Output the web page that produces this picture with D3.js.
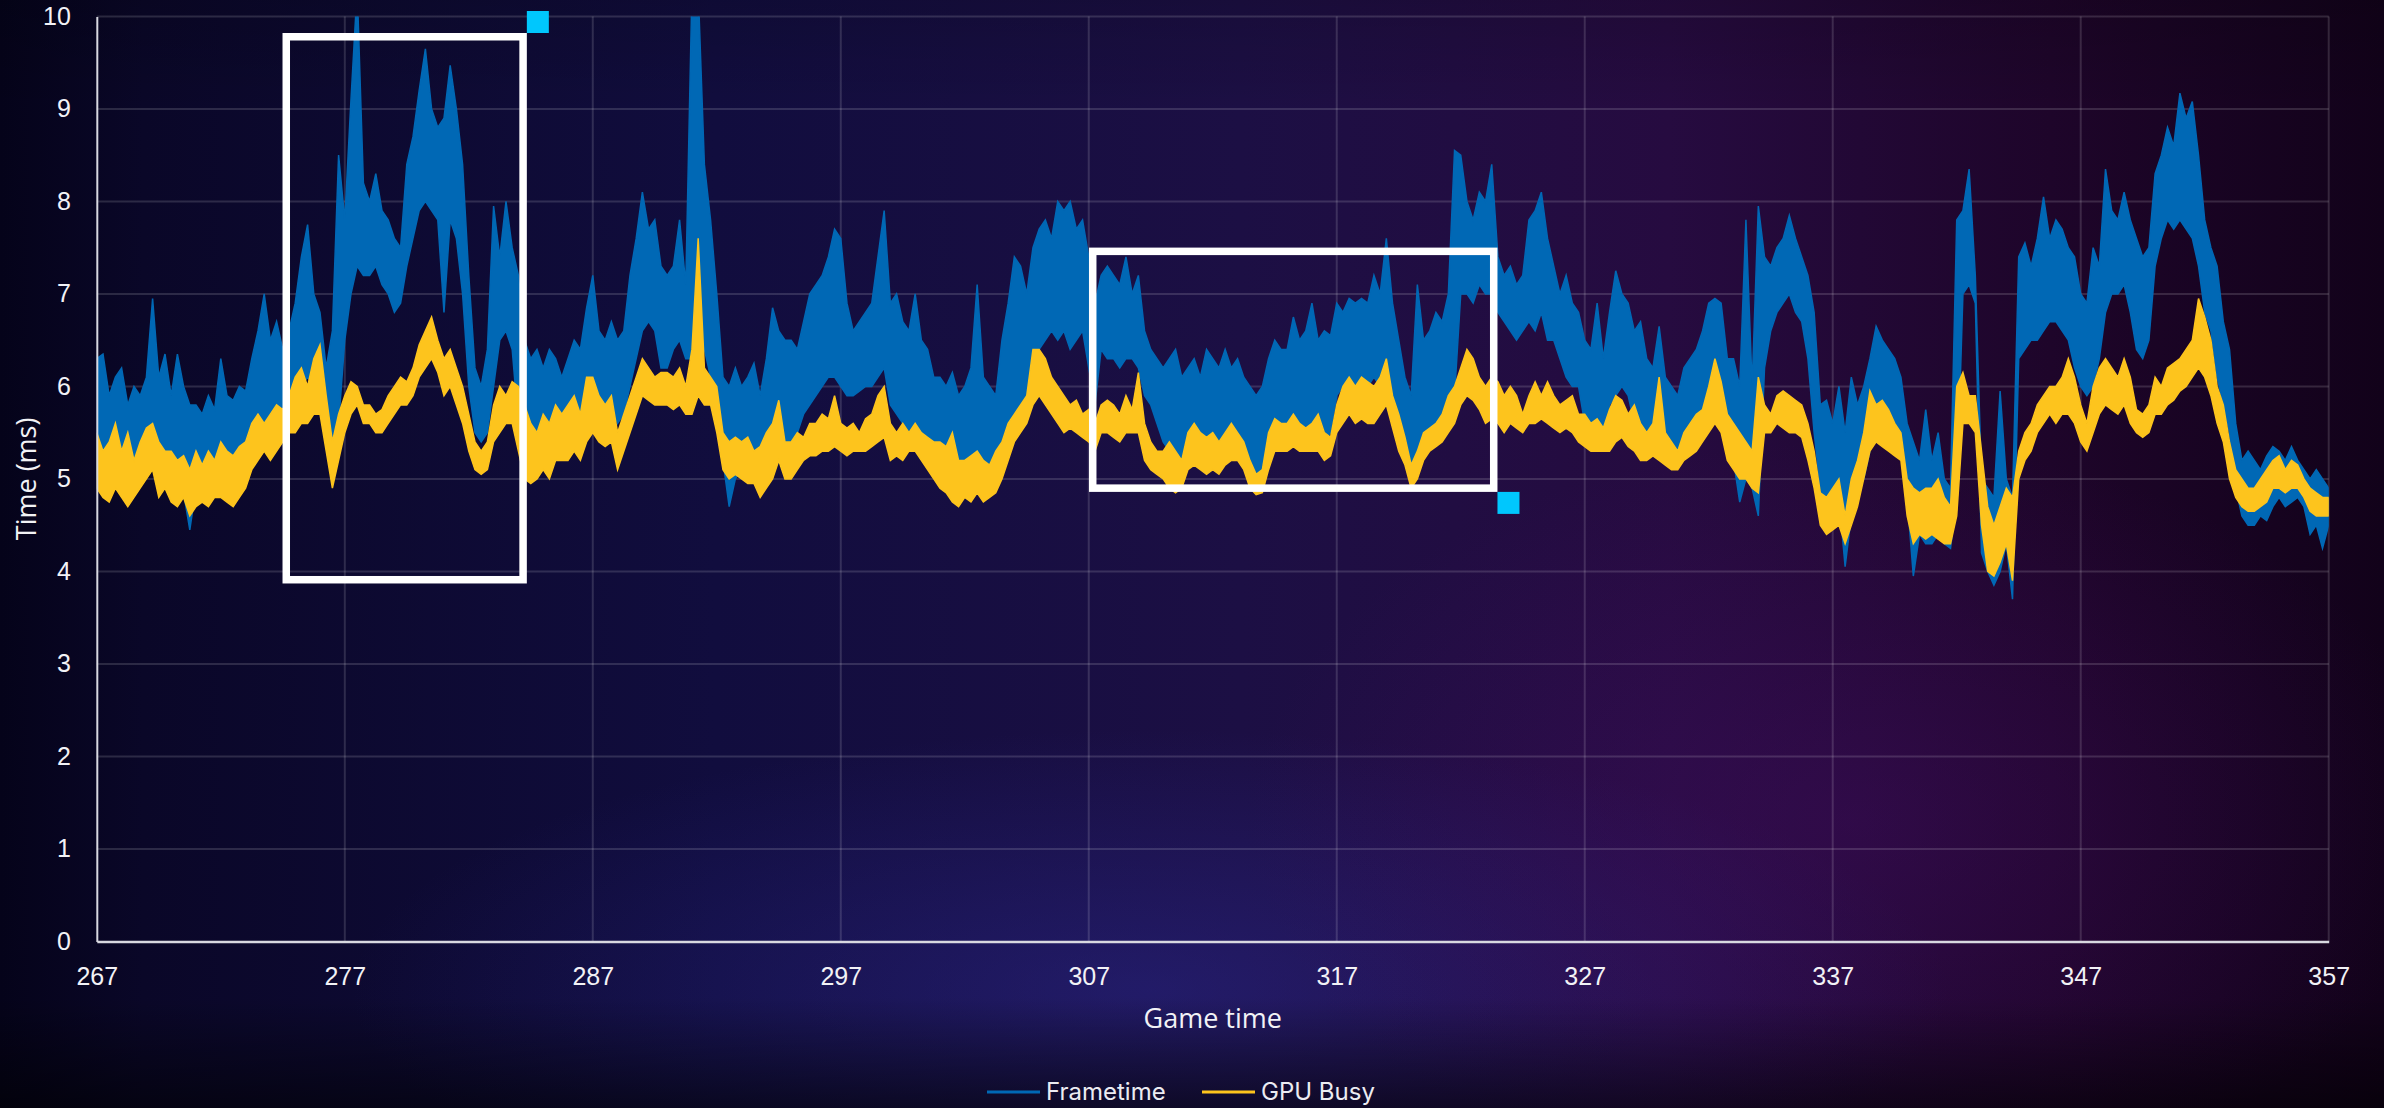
<!DOCTYPE html>
<html>
<head>
<meta charset="utf-8">
<script src="https://cdn.jsdelivr.net/npm/d3@7"></script>
<style>
  html, body { margin: 0; padding: 0; background: #0b0826; overflow: hidden; }
  svg { display: block; }
  .tick text { fill: #f2f2f6; font-family: "Liberation Sans", Arial, sans-serif; font-size: 25px; }
</style>
</head>
<body>
<script>
// Sample grid: one value every quarter second, from 267 s to 357 s
const tStart = 267;
const tStep = 0.25;

const xTicks = [267, 277, 287, 297, 307, 317, 327, 337, 347, 357];
const yTicks = [0, 1, 2, 3, 4, 5, 6, 7, 8, 9, 10];

// Frametime (ms): upper and lower envelope of the trace, per quarter second
const frameHi = [
  6.3, 6.35, 5.9, 6.1,  6.2, 5.8, 6.0, 5.9,  6.1, 6.95, 6.1, 6.35,  5.9, 6.35, 6.0, 5.8,  5.8, 5.7, 5.9, 5.75,
  6.3, 5.9, 5.85, 6.0,  5.95, 6.3, 6.6, 7.0,  6.5, 6.7, 6.4, 6.6,  6.9, 7.4, 7.75, 7.0,  6.8, 6.2, 6.6, 8.5,
  7.8, 9.1, 10.3, 8.2,  8.0, 8.3, 7.9, 7.8,  7.6, 7.5, 8.4, 8.7,  9.2, 9.65, 9.0, 8.8,  8.9, 9.47, 9.0, 8.4,
  7.2, 6.2, 6.0, 6.4,  7.95, 7.4, 8.0, 7.5,  7.2, 6.5, 6.3, 6.4,  6.2, 6.4, 6.3, 6.1,  6.3, 6.5, 6.4, 6.85,
  7.2, 6.6, 6.5, 6.7,  6.5, 6.6, 7.2, 7.6,  8.1, 7.7, 7.8, 7.3,  7.2, 7.3, 7.8, 7.1,  10.3, 10.3, 8.4, 7.8,
  7.0, 6.1, 6.0, 6.2,  6.0, 6.1, 6.25, 5.9,  6.3, 6.85, 6.6, 6.5,  6.5, 6.4, 6.7, 7.0,  7.1, 7.2, 7.4, 7.7,
  7.6, 6.9, 6.6, 6.7,  6.8, 6.9, 7.4, 7.9,  6.9, 7.0, 6.7, 6.6,  7.0, 6.5, 6.4, 6.1,  6.1, 6.0, 6.15, 5.9,
  6.0, 6.2, 7.1, 6.1,  6.0, 5.9, 6.5, 6.9,  7.4, 7.3, 7.0, 7.5,  7.7, 7.8, 7.6, 8.0,  7.9, 8.0, 7.7, 7.8,
  7.4, 6.9, 7.2, 7.3,  7.2, 7.1, 7.4, 7.0,  7.2, 6.6, 6.4, 6.3,  6.2, 6.3, 6.4, 6.1,  6.2, 6.3, 6.1, 6.4,
  6.3, 6.2, 6.4, 6.2,  6.3, 6.1, 6.0, 5.9,  6.0, 6.3, 6.5, 6.4,  6.4, 6.75, 6.5, 6.6,  6.9, 6.5, 6.6, 6.55,
  6.9, 6.8, 6.95, 6.9,  6.95, 6.9, 7.2, 7.0,  7.6, 6.9, 6.5, 6.1,  5.9, 7.1, 6.5, 6.6,  6.8, 6.7, 7.0, 8.55,
  8.5, 8.0, 7.8, 8.1,  8.0, 8.4, 7.4, 7.2,  7.3, 7.1, 7.2, 7.8,  7.9, 8.1, 7.6, 7.3,  7.0, 7.2, 6.9, 6.8,
  6.5, 6.4, 6.9, 6.3,  6.8, 7.25, 7.0, 6.9,  6.6, 6.7, 6.3, 6.2,  6.65, 6.1, 6.0, 5.9,  6.2, 6.3, 6.4, 6.6,
  6.9, 6.95, 6.9, 6.3,  6.3, 6.0, 7.8, 6.0,  7.95, 7.4, 7.3, 7.5,  7.6, 7.85, 7.6, 7.4,  7.2, 6.8, 5.8, 5.85,
  5.6, 6.0, 5.5, 6.1,  5.8, 6.0, 6.3, 6.65,  6.5, 6.4, 6.3, 6.1,  5.6, 5.4, 5.2, 5.75,  5.2, 5.5, 5.0, 4.9,
  7.8, 7.9, 8.35, 7.2,  5.0, 4.9, 4.8, 5.95,  5.0, 4.8, 7.4, 7.55,  7.3, 7.6, 8.05, 7.6,  7.8, 7.7, 7.5, 7.4,
  7.0, 6.9, 7.5, 7.3,  8.35, 7.9, 7.8, 8.1,  7.8, 7.6, 7.4, 7.5,  8.3, 8.5, 8.8, 8.6,  9.17, 8.9, 9.08, 8.5,
  7.8, 7.5, 7.3, 6.7,  6.4, 5.6, 5.2, 5.3,  5.2, 5.1, 5.25, 5.35,  5.3, 5.2, 5.35, 5.2,  5.1, 5.0, 5.1, 5.0,
  4.9
];
const frameLo = [
  5.0, 4.95, 5.1, 5.0,  5.1, 5.0, 4.9, 5.0,  5.1, 5.2, 5.0, 5.1,  5.0, 4.9, 4.85, 4.45,  4.9, 4.85, 5.0, 4.9,
  5.0, 4.9, 4.8, 4.9,  5.0, 5.2, 5.4, 5.5,  5.6, 5.6, 5.5, 5.7,  5.9, 6.0, 6.1, 6.0,  5.8, 5.5, 5.3, 5.6,
  6.5, 7.0, 7.3, 7.2,  7.2, 7.3, 7.1, 7.0,  6.8, 6.9, 7.3, 7.6,  7.9, 8.0, 7.9, 7.8,  6.8, 7.8, 7.6, 7.0,
  6.0, 5.5, 5.4, 5.5,  6.0, 6.5, 6.6, 6.4,  5.6, 5.4, 5.3, 5.2,  5.4, 5.5, 5.5, 5.4,  5.5, 5.6, 5.5, 5.6,
  5.9, 5.8, 5.7, 5.8,  5.6, 5.7, 6.0, 6.3,  6.6, 6.7, 6.6, 6.2,  6.2, 6.4, 6.5, 6.3,  6.3, 6.5, 6.4, 6.1,
  5.8, 5.2, 4.7, 5.0,  5.1, 5.0, 5.05, 5.0,  5.0, 5.1, 5.3, 5.2,  5.3, 5.5, 5.7, 5.8,  5.9, 6.0, 6.1, 6.1,
  6.0, 5.9, 5.9, 5.95,  6.0, 6.0, 6.1, 6.2,  5.8, 5.7, 5.6, 5.5,  5.5, 5.4, 5.3, 5.2,  5.1, 5.0, 4.9, 4.85,
  4.9, 4.95, 5.0, 4.9,  4.9, 4.95, 5.2, 5.5,  5.7, 5.8, 5.9, 6.0,  6.4, 6.5, 6.6, 6.5,  6.6, 6.4, 6.5, 6.6,
  6.2, 5.8, 6.4, 6.3,  6.3, 6.2, 6.3, 6.3,  6.2, 5.9, 5.8, 5.6,  5.4, 5.3, 5.2, 5.2,  5.2, 5.25, 5.2, 5.3,
  5.3, 5.3, 5.4, 5.35,  5.4, 5.3, 5.1, 5.0,  5.1, 5.3, 5.4, 5.4,  5.4, 5.5, 5.5, 5.45,  5.5, 5.5, 5.4, 5.5,
  5.9, 6.0, 6.0, 5.9,  5.95, 6.0, 6.1, 6.0,  6.0, 5.8, 5.6, 5.4,  5.0, 5.1, 5.3, 5.4,  5.6, 5.6, 5.7, 5.9,
  7.0, 7.0, 6.9, 7.1,  7.0, 7.0, 6.8, 6.7,  6.6, 6.5, 6.6, 6.7,  6.6, 6.8, 6.5, 6.5,  6.3, 6.1, 6.0, 6.0,
  5.6, 5.5, 5.5, 5.4,  5.8, 5.9, 6.0, 5.9,  5.6, 5.5, 5.4, 5.4,  5.4, 5.3, 5.2, 5.15,  5.3, 5.4, 5.4, 5.5,
  5.9, 6.0, 5.9, 5.5,  5.2, 4.75, 5.0, 4.9,  4.6, 6.2, 6.6, 6.8,  6.9, 7.0, 6.8, 6.7,  6.3, 5.5, 4.9, 4.7,
  4.7, 4.8, 4.05, 4.6,  4.9, 5.0, 5.3, 5.6,  5.6, 5.5, 5.4, 5.3,  4.8, 3.95, 4.4, 4.3,  4.3, 4.4, 4.3, 4.25,
  4.8, 7.0, 7.1, 6.9,  4.2, 4.0, 3.85, 4.0,  4.3, 3.7, 6.3, 6.4,  6.5, 6.5, 6.6, 6.7,  6.7, 6.6, 6.5, 6.2,
  6.0, 5.9, 6.0, 6.3,  6.8, 7.0, 7.0, 7.1,  6.8, 6.4, 6.3, 6.5,  7.3, 7.6, 7.8, 7.7,  7.8, 7.7, 7.6, 7.3,
  6.8, 6.6, 6.1, 5.8,  5.5, 4.9, 4.6, 4.5,  4.5, 4.6, 4.55, 4.7,  4.8, 4.7, 4.75, 4.8,  4.7, 4.4, 4.5, 4.25,
  4.5
];

// GPU Busy (ms): upper and lower envelope, per quarter second
const gpuHi = [
  5.5, 5.3, 5.4, 5.6,  5.3, 5.5, 5.2, 5.4,  5.55, 5.6, 5.4, 5.3,  5.3, 5.2, 5.25, 5.1,  5.3, 5.15, 5.3, 5.2,
  5.4, 5.3, 5.25, 5.35,  5.4, 5.6, 5.7, 5.6,  5.7, 5.8, 5.75, 5.9,  6.1, 6.2, 6.0, 6.3,  6.45, 5.9, 5.4, 5.7,
  5.9, 6.05, 6.0, 5.8,  5.8, 5.7, 5.75, 5.9,  6.0, 6.1, 6.05, 6.2,  6.45, 6.6, 6.75, 6.5,  6.3, 6.4, 6.2, 6.0,
  5.7, 5.4, 5.3, 5.4,  5.8, 6.0, 5.9, 6.05,  6.0, 5.8, 5.6, 5.5,  5.7, 5.6, 5.8, 5.7,  5.8, 5.9, 5.7, 6.1,
  6.1, 5.9, 5.8, 5.9,  5.5, 5.7, 5.9, 6.1,  6.3, 6.2, 6.1, 6.15,  6.15, 6.1, 6.2, 6.0,  6.4, 7.6, 6.2, 6.1,
  6.0, 5.5, 5.4, 5.45,  5.4, 5.45, 5.3, 5.35,  5.5, 5.6, 5.85, 5.4,  5.4, 5.5, 5.45, 5.6,  5.6, 5.7, 5.65, 5.9,
  5.6, 5.55, 5.6, 5.5,  5.65, 5.7, 5.9, 6.0,  5.6, 5.5, 5.6, 5.5,  5.6, 5.5, 5.45, 5.4,  5.4, 5.35, 5.5, 5.2,
  5.2, 5.25, 5.3, 5.2,  5.15, 5.3, 5.4, 5.6,  5.7, 5.8, 5.9, 6.4,  6.4, 6.3, 6.1, 6.0,  5.9, 5.8, 5.85, 5.7,
  5.75, 5.6, 5.8, 5.85,  5.8, 5.7, 5.9, 5.75,  6.15, 5.6, 5.4, 5.3,  5.3, 5.4, 5.3, 5.2,  5.5, 5.6, 5.5, 5.45,
  5.5, 5.4, 5.5, 5.6,  5.5, 5.4, 5.2, 5.05,  5.1, 5.5, 5.65, 5.6,  5.6, 5.7, 5.6, 5.55,  5.6, 5.7, 5.5, 5.45,
  5.8, 6.0, 6.1, 6.0,  6.1, 6.05, 6.0, 6.1,  6.3, 5.9, 5.7, 5.45,  5.15, 5.3, 5.5, 5.55,  5.6, 5.7, 5.9, 6.0,
  6.2, 6.4, 6.3, 6.1,  6.0, 6.1, 6.05, 5.9,  6.0, 5.9, 5.7, 5.9,  6.05, 5.9, 6.05, 5.9,  5.8, 5.85, 5.9, 5.7,
  5.7, 5.6, 5.65, 5.55,  5.75, 5.9, 5.85, 5.7,  5.8, 5.6, 5.5, 5.6,  6.1, 5.5, 5.4, 5.3,  5.5, 5.6, 5.7, 5.75,
  6.0, 6.3, 6.05, 5.7,  5.6, 5.5, 5.4, 5.3,  6.1, 5.8, 5.7, 5.9,  5.95, 5.9, 5.85, 5.8,  5.6, 5.3, 4.85, 4.8,
  4.9, 5.0, 4.6, 5.0,  5.2, 5.5, 5.95, 5.8,  5.85, 5.75, 5.6, 5.5,  5.0, 4.9, 4.85, 4.9,  4.9, 5.0, 4.8, 4.7,
  6.0, 6.15, 5.9, 5.9,  5.3, 4.7, 4.5, 4.7,  4.9, 4.8, 5.3, 5.5,  5.6, 5.8, 5.9, 6.0,  6.0, 6.1, 6.3, 6.1,
  5.8, 5.6, 6.0, 6.2,  6.3, 6.2, 6.1, 6.3,  6.1, 5.75, 5.7, 5.8,  6.1, 6.0, 6.2, 6.25,  6.3, 6.4, 6.5, 6.95,
  6.75, 6.5, 6.0, 5.8,  5.4, 5.1, 5.0, 4.9,  4.9, 5.0, 5.1, 5.2,  5.25, 5.1, 5.2, 5.15,  5.0, 4.9, 4.85, 4.8,
  4.8
];
const gpuLo = [
  4.9, 4.8, 4.75, 4.9,  4.8, 4.7, 4.8, 4.9,  5.0, 5.1, 4.8, 4.9,  4.75, 4.7, 4.8, 4.6,  4.7, 4.75, 4.7, 4.8,
  4.8, 4.75, 4.7, 4.8,  4.9, 5.1, 5.2, 5.3,  5.2, 5.3, 5.4, 5.5,  5.5, 5.6, 5.6, 5.7,  5.7, 5.3, 4.9, 5.2,
  5.5, 5.7, 5.8, 5.6,  5.6, 5.5, 5.5, 5.6,  5.7, 5.8, 5.8, 5.9,  6.1, 6.2, 6.3, 6.15,  5.9, 6.0, 5.8, 5.6,
  5.3, 5.1, 5.05, 5.1,  5.4, 5.5, 5.6, 5.6,  5.3, 5.0, 4.95, 5.0,  5.1, 5.0, 5.2, 5.2,  5.2, 5.3, 5.2, 5.4,
  5.5, 5.4, 5.35, 5.4,  5.1, 5.3, 5.5, 5.7,  5.9, 5.85, 5.8, 5.8,  5.8, 5.75, 5.8, 5.7,  5.7, 5.9, 5.8, 5.8,
  5.5, 5.1, 5.0, 5.05,  5.0, 4.95, 4.95, 4.8,  4.9, 5.0, 5.2, 5.0,  5.0, 5.1, 5.2, 5.25,  5.25, 5.3, 5.3, 5.35,
  5.3, 5.25, 5.3, 5.3,  5.3, 5.35, 5.4, 5.45,  5.2, 5.25, 5.2, 5.3,  5.3, 5.2, 5.1, 5.0,  4.9, 4.85, 4.75, 4.7,
  4.8, 4.75, 4.85, 4.75,  4.8, 4.85, 5.0, 5.2,  5.4, 5.5, 5.6, 5.8,  5.9, 5.8, 5.7, 5.6,  5.5, 5.55, 5.5, 5.45,
  5.4, 5.3, 5.5, 5.5,  5.45, 5.4, 5.5, 5.5,  5.5, 5.2, 5.1, 5.05,  5.0, 4.9, 4.85, 4.9,  5.1, 5.15, 5.1, 5.05,
  5.1, 5.05, 5.15, 5.2,  5.2, 5.1, 4.9, 4.83,  4.85, 5.1, 5.3, 5.3,  5.3, 5.35, 5.3, 5.3,  5.3, 5.3, 5.2, 5.25,
  5.5, 5.6, 5.7, 5.6,  5.65, 5.6, 5.6, 5.7,  5.8, 5.55, 5.3, 5.15,  4.9, 5.0, 5.2, 5.3,  5.35, 5.4, 5.5, 5.6,
  5.8, 5.9, 5.85, 5.75,  5.6, 5.65, 5.6, 5.5,  5.6, 5.55, 5.5, 5.6,  5.6, 5.65, 5.6, 5.55,  5.5, 5.55, 5.5, 5.4,
  5.35, 5.3, 5.3, 5.3,  5.3, 5.4, 5.45, 5.35,  5.3, 5.2, 5.2, 5.25,  5.2, 5.15, 5.1, 5.1,  5.2, 5.25, 5.3, 5.4,
  5.5, 5.6, 5.5, 5.2,  5.1, 5.0, 5.0, 4.9,  4.85, 5.5, 5.5, 5.6,  5.55, 5.5, 5.5, 5.45,  5.2, 4.9, 4.5, 4.4,
  4.45, 4.5, 4.3, 4.5,  4.7, 5.0, 5.3, 5.4,  5.35, 5.3, 5.25, 5.2,  4.6, 4.3, 4.4, 4.35,  4.4, 4.35, 4.3, 4.3,
  4.6, 5.6, 5.6, 5.5,  4.5, 4.0, 3.95, 4.1,  4.3, 3.9, 5.0, 5.2,  5.3, 5.5, 5.6, 5.7,  5.6, 5.7, 5.7, 5.6,
  5.4, 5.3, 5.5, 5.7,  5.8, 5.75, 5.7, 5.8,  5.6, 5.5, 5.45, 5.5,  5.7, 5.7, 5.8, 5.85,  5.95, 6.0, 6.1, 6.2,
  6.1, 5.9, 5.6, 5.4,  5.0, 4.8, 4.7, 4.65,  4.65, 4.7, 4.75, 4.9,  4.9, 4.85, 4.9, 4.9,  4.8, 4.65, 4.6, 4.6,
  4.6
];

const seriesNames = ["Frametime", "GPU Busy"];
const seriesColors = ["#0068b5", "#fdc41d"];

// Highlight boxes (game time, ms) and the corner marker of each
const boxStart = [274.64, 307.16];
const boxEnd = [284.19, 323.33];
const boxLow = [3.91, 4.90];
const boxHigh = [9.78, 7.46];
const boxMarker = ["top", "bottom"];

const W = 2384, H = 1108;

const svg = d3.select("body").append("svg")
  .attr("width", W)
  .attr("height", H);

const defs = svg.append("defs");

// background: dark navy on the left, purple in the middle, dark plum on the right
const bg = defs.append("linearGradient").attr("id", "bg").attr("x1", 0).attr("x2", 1).attr("y1", 0).attr("y2", 0);
[[0, "#05031a"], [0.06, "#0a0728"], [0.3, "#110d3e"], [0.52, "#1c0f44"], [0.7, "#260b40"], [0.86, "#1e052a"], [1, "#12021a"]]
  .forEach(s => bg.append("stop").attr("offset", s[0]).attr("stop-color", s[1]));

const glowBlue = defs.append("radialGradient").attr("id", "glowBlue");
glowBlue.append("stop").attr("offset", 0).attr("stop-color", "#2c2a95").attr("stop-opacity", 0.45);
glowBlue.append("stop").attr("offset", 1).attr("stop-color", "#2c2a95").attr("stop-opacity", 0);

const glowPurple = defs.append("radialGradient").attr("id", "glowPurple");
glowPurple.append("stop").attr("offset", 0).attr("stop-color", "#4a0f6c").attr("stop-opacity", 0.35);
glowPurple.append("stop").attr("offset", 1).attr("stop-color", "#4a0f6c").attr("stop-opacity", 0);

const shade = defs.append("linearGradient").attr("id", "shade").attr("x1", 0).attr("x2", 0).attr("y1", 0).attr("y2", 1);
[[0, "#000", 0.15], [0.1, "#000", 0], [0.9, "#000", 0], [1, "#000", 0.55]]
  .forEach(s => shade.append("stop").attr("offset", s[0]).attr("stop-color", s[1]).attr("stop-opacity", s[2]));

svg.append("rect").attr("width", W).attr("height", H).attr("fill", "url(#bg)");
svg.append("ellipse").attr("cx", 1150).attr("cy", 990).attr("rx", 800).attr("ry", 260).attr("fill", "url(#glowBlue)");
svg.append("ellipse").attr("cx", 1850).attr("cy", 820).attr("rx", 600).attr("ry", 380).attr("fill", "url(#glowPurple)");
svg.append("rect").attr("width", W).attr("height", H).attr("fill", "url(#shade)");

// scales
const x = d3.scaleLinear().domain([267, 357]).range([96.8, 2328.7]);
const y = d3.scaleLinear().domain([0, 10]).range([941.4, 16.4]);

defs.append("clipPath").attr("id", "plotClip")
  .append("rect")
  .attr("x", x(267)).attr("y", y(10))
  .attr("width", x(357) - x(267)).attr("height", y(0) - y(10));

// grid
const grid = svg.append("g").attr("stroke", "#ffffff").attr("stroke-opacity", 0.14).attr("stroke-width", 2);
grid.selectAll(".hg").data(yTicks.filter(v => v > 0)).join("line")
  .attr("x1", x(267)).attr("x2", x(357))
  .attr("y1", d => y(d)).attr("y2", d => y(d));
grid.selectAll(".vg").data(xTicks.filter(v => v > 267)).join("line")
  .attr("x1", d => x(d)).attr("x2", d => x(d))
  .attr("y1", y(0)).attr("y2", y(10));

// series as filled bands between the low and high envelope
function band(hi, lo) {
  const n = Math.min(hi.length, lo.length);
  return d3.range(n).map(i => ({ t: tStart + i * tStep, hi: hi[i], lo: lo[i] }));
}
const area = d3.area()
  .x(d => x(d.t))
  .y0(d => y(d.lo))
  .y1(d => y(d.hi));

const plot = svg.append("g").attr("clip-path", "url(#plotClip)");
[[frameHi, frameLo], [gpuHi, gpuLo]].forEach((s, k) => {
  plot.append("path")
    .datum(band(s[0], s[1]))
    .attr("d", area)
    .attr("fill", seriesColors[k])
    .attr("stroke", seriesColors[k])
    .attr("stroke-width", 1.5)
    .attr("stroke-linejoin", "miter");
});

// axes
const yAxis = svg.append("g")
  .attr("transform", `translate(${x(267)},0)`)
  .call(d3.axisLeft(y).tickValues(yTicks).tickSize(0).tickSizeOuter(0).tickPadding(26));
yAxis.select(".domain").attr("stroke", "#d8d8e0").attr("stroke-width", 2);

const xAxis = svg.append("g")
  .attr("transform", `translate(0,${y(0)})`)
  .call(d3.axisBottom(x).tickValues(xTicks).tickSize(0).tickSizeOuter(0).tickPadding(26));
xAxis.select(".domain").attr("stroke", "#d8d8e0").attr("stroke-width", 2.5);

svg.append("text")
  .attr("transform", `translate(25,${(y(0) + y(10)) / 2}) rotate(-90)`)
  .attr("text-anchor", "middle")
  .attr("dominant-baseline", "central")
  .attr("fill", "#f2f2f6")
  .style("font-family", "'Open Sans', Lato, sans-serif")
  .style("font-size", "27px")
  .text("Time (ms)");

svg.append("text")
  .attr("x", (x(267) + x(357)) / 2)
  .attr("y", 1028)
  .attr("text-anchor", "middle")
  .attr("fill", "#f2f2f6")
  .style("font-family", "'Open Sans', Lato, sans-serif")
  .style("font-size", "27px")
  .text("Game time");

// highlight boxes
const boxes = d3.range(boxStart.length).map(i => ({
  x0: boxStart[i], x1: boxEnd[i], v0: boxLow[i], v1: boxHigh[i], m: boxMarker[i]
}));
const boxStroke = 7.5, markSize = 22;
svg.selectAll(".box").data(boxes).join("rect")
  .attr("x", d => x(d.x0)).attr("y", d => y(d.v1))
  .attr("width", d => x(d.x1) - x(d.x0))
  .attr("height", d => y(d.v0) - y(d.v1))
  .attr("fill", "none")
  .attr("stroke", "#ffffff")
  .attr("stroke-width", boxStroke);
svg.selectAll(".mark").data(boxes).join("rect")
  .attr("x", d => x(d.x1) + boxStroke / 2)
  .attr("y", d => d.m === "top" ? y(d.v1) - boxStroke / 2 - markSize : y(d.v0) + boxStroke / 2)
  .attr("width", markSize).attr("height", markSize)
  .attr("fill", "#00c7fd");

// legend
const legendX = [987, 1202];
const legend = svg.append("g");
seriesNames.forEach((name, i) => {
  legend.append("line")
    .attr("x1", legendX[i]).attr("x2", legendX[i] + 53)
    .attr("y1", 1092).attr("y2", 1092)
    .attr("stroke", seriesColors[i]).attr("stroke-width", 3);
  legend.append("text")
    .attr("x", legendX[i] + 59).attr("y", 1100)
    .attr("fill", "#ececf2")
    .style("font-family", "Inter, 'Noto Sans', sans-serif")
    .style("font-size", "24px")
    .text(name);
});
</script>
</body>
</html>
